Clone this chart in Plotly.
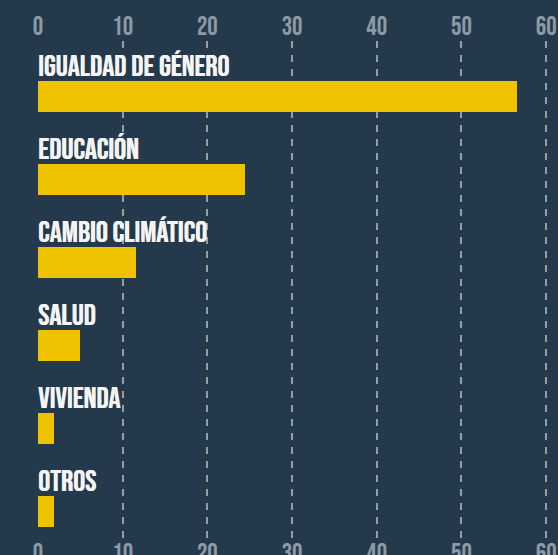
import plotly.graph_objects as go

categories = ["IGUALDAD DE GÉNERO", "EDUCACIÓN", "CAMBIO CLIMÁTICO", "SALUD", "VIVIENDA", "OTROS"]
values = [56.6, 24.5, 11.6, 4.9, 1.9, 1.9]
tick_vals = [0, 10, 20, 30, 40, 50, 60]

BG = "#243a4c"
BAR = "#f0c300"
GRID = "#9a9da0"
TICK = "#8d9aa6"
FONT = "Bebas Neue, Oswald, Roboto Condensed, sans-serif"

fig = go.Figure()
fig.add_trace(go.Bar(
    x=values, y=categories, orientation="h",
    marker=dict(color=BAR, line=dict(width=0)),
    width=0.37, hoverinfo="skip",
))
fig.add_trace(go.Scatter(
    x=[tick_vals[0], tick_vals[-1]], y=[categories[0], categories[0]],
    xaxis="x2", mode="markers", marker=dict(opacity=0), hoverinfo="skip", showlegend=False,
))

for c in categories:
    fig.add_annotation(
        x=0, y=c, xref="x", yref="y", text=c, showarrow=False,
        xanchor="left", yanchor="bottom", yshift=10, xshift=-2,
        font=dict(family=FONT, size=30, color="#f4f4f4",
                  shadow="0.6px 0 0 #f4f4f4"),
    )

axis_common = dict(
    tickvals=tick_vals, ticktext=[str(v) for v in tick_vals],
    showgrid=True, gridcolor=GRID, gridwidth=2, griddash="7px,7px",
    zeroline=False, showline=False, ticks="", ticklabeloverflow="allow",
    tickfont=dict(family=FONT, size=26, color=TICK),
)

fig.update_layout(
    width=558, height=555,
    paper_bgcolor=BG, plot_bgcolor=BG,
    margin=dict(l=37.5, r=0, t=41, b=16, autoexpand=False),
    showlegend=False,
    bargap=0,
    xaxis=dict(side="bottom", range=[0, 61.4], **axis_common),
    xaxis2=dict(side="top", overlaying="x", matches="x", **axis_common),
    yaxis=dict(categoryorder="array", categoryarray=categories, range=[5.331, -0.669],
               showgrid=False, showticklabels=False, zeroline=False, showline=False),
)
try:
    fig.update_layout(xaxis_ticklabelstandoff=-4)
except Exception:
    pass

fig.write_html("out.html", config={"displayModeBar": False},
               post_script="document.body.style.margin='0';")
